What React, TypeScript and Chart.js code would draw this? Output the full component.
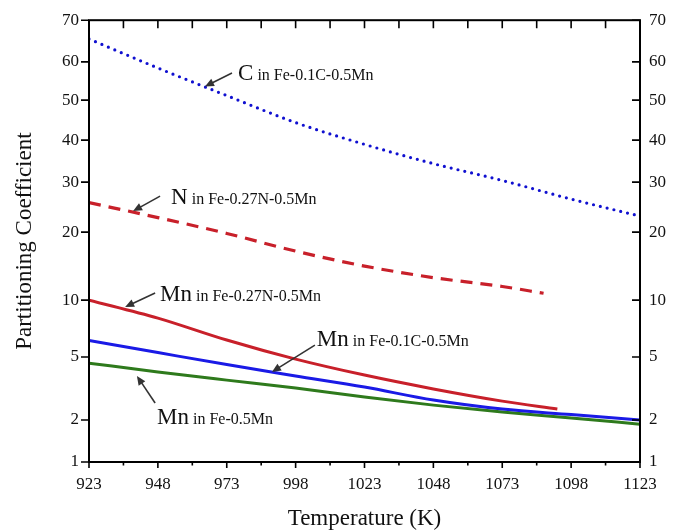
import React, { useEffect, useRef } from 'react';
import { Chart, registerables, LinearScale } from 'chart.js';

// ---------------- data ----------------
const TEMPS = [923, 948, 973, 998, 1023, 1048, 1073, 1098, 1123];
const C_IN_FE_C_MN = [65.5, 58.4, 51.2, 44.4, 39.0, 34.4, 30.4, 26.6, 23.2];

const N_TEMPS = [923, 948, 973, 998, 1023, 1048, 1073, 1088];
const N_IN_FE_N_MN = [25.9, 22.9, 19.8, 17.2, 15.0, 13.3, 12.0, 11.0];

const MN_N_TEMPS = [923, 948, 973, 998, 1023, 1048, 1073, 1093];
const MN_IN_FE_N_MN = [10.0, 8.42, 6.49, 4.9, 4.14, 3.48, 2.9, 2.52];

const MN_IN_FE_C_MN = [6.45, 5.39, 4.64, 4.1, 3.57, 2.95, 2.52, 2.26, 2.0];
const MN_IN_FE_MN = [4.71, 4.29, 3.9, 3.52, 3.1, 2.71, 2.38, 2.1, 1.9];

const X_TICKS = [923, 948, 973, 998, 1023, 1048, 1073, 1098, 1123];
const Y_TICKS = [1, 2, 5, 10, 20, 30, 40, 50, 60, 70];

// annotation texts (big element + smaller remainder)
const LABEL_MAIN = ['C', 'N', 'Mn', 'Mn', 'Mn'];
const LABEL_REST = [' in Fe-0.1C-0.5Mn', ' in Fe-0.27N-0.5Mn', ' in Fe-0.27N-0.5Mn', ' in Fe-0.1C-0.5Mn', ' in Fe-0.5Mn'];

// ---------------- axis / layout config ----------------
// segmented (broken) y axis: fraction of axis height at which each Y tick sits
const Y_TICK_FRACTIONS = [0, 0.095, 0.2376, 0.3665, 0.5204, 0.6335, 0.7285, 0.819, 0.9057, 1];

// annotation anchors in data space [T, value]
const LABEL_AT: [number, number][] = [[977.1, 57.3], [952.8, 27.2], [948.8, 11.0], [1005.7, 6.67], [947.7, 2.2]];
const ARROW_FROM: [number, number][] = [[974.9, 57.1], [948.8, 27.2], [947, 11.03], [1005, 6.05], [947, 2.81]];
const ARROW_TO: [number, number][] = [[965.1, 53.6], [939.0, 24.2], [936.1, 9.39], [989.4, 4.29], [940.4, 4.1]];

const FONT = "'Liberation Serif', 'Times New Roman', Times, serif";

function valueToFraction(v: number): number {
  const n = Y_TICKS.length;
  let i = 1;
  while (i < n - 1 && v > Y_TICKS[i]) i++;
  const a = Y_TICKS[i - 1], b = Y_TICKS[i];
  const fa = Y_TICK_FRACTIONS[i - 1], fb = Y_TICK_FRACTIONS[i];
  return fa + ((v - a) / (b - a)) * (fb - fa);
}
function fractionToValue(f: number): number {
  const n = Y_TICKS.length;
  let i = 1;
  while (i < n - 1 && f > Y_TICK_FRACTIONS[i]) i++;
  const a = Y_TICKS[i - 1], b = Y_TICKS[i];
  const fa = Y_TICK_FRACTIONS[i - 1], fb = Y_TICK_FRACTIONS[i];
  return a + ((f - fa) / (fb - fa)) * (b - a);
}

class SegmentedScale extends (LinearScale as any) {
  static id = 'segmented';
  static defaults = {};
  determineDataLimits() {
    (this as any).min = Y_TICKS[0];
    (this as any).max = Y_TICKS[Y_TICKS.length - 1];
  }
  buildTicks() {
    return Y_TICKS.map((v) => ({ value: v }));
  }
  getPixelForValue(value: number) {
    return (this as any).getPixelForDecimal(valueToFraction(value));
  }
  getValueForPixel(pixel: number) {
    return fractionToValue((this as any).getDecimalForPixel(pixel));
  }
}

Chart.register(...registerables, SegmentedScale as any);

const framePlugin = {
  id: 'frame',
  afterDatasetsDraw(chart: any) {
    const { ctx, chartArea: a, scales } = chart;
    const x = scales.x, y = scales.y;
    ctx.save();
    ctx.strokeStyle = '#000';
    ctx.lineWidth = 2;
    ctx.strokeRect(a.left, a.top, a.right - a.left, a.bottom - a.top);
    ctx.lineWidth = 1.6;
    ctx.beginPath();
    for (let i = 0; i < X_TICKS.length; i++) {
      const px = x.getPixelForValue(X_TICKS[i]);
      ctx.moveTo(px, a.bottom); ctx.lineTo(px, a.bottom + 6);
      ctx.moveTo(px, a.top); ctx.lineTo(px, a.top + 8);
      if (i < X_TICKS.length - 1) {
        const mx = x.getPixelForValue((X_TICKS[i] + X_TICKS[i + 1]) / 2);
        ctx.moveTo(mx, a.bottom); ctx.lineTo(mx, a.bottom + 3.5);
        ctx.moveTo(mx, a.top); ctx.lineTo(mx, a.top + 8);
      }
    }
    for (const v of Y_TICKS) {
      const py = y.getPixelForValue(v);
      ctx.moveTo(a.left, py); ctx.lineTo(a.left - 8, py);
      ctx.moveTo(a.right, py); ctx.lineTo(a.right - 8, py);
    }
    ctx.stroke();
    ctx.restore();
  },
};

const annotationPlugin = {
  id: 'notes',
  afterDraw(chart: any) {
    const { ctx, scales } = chart;
    const x = scales.x, y = scales.y;
    ctx.save();
    for (let i = 0; i < LABEL_MAIN.length; i++) {
      const lx = x.getPixelForValue(LABEL_AT[i][0]);
      const ly = y.getPixelForValue(LABEL_AT[i][1]);
      ctx.fillStyle = '#111';
      ctx.textBaseline = 'alphabetic';
      ctx.textAlign = 'left';
      ctx.font = `23px ${FONT}`;
      const base = ly + 8;
      ctx.fillText(LABEL_MAIN[i], lx, base);
      const w = ctx.measureText(LABEL_MAIN[i]).width;
      ctx.font = `16px ${FONT}`;
      ctx.fillText(LABEL_REST[i], lx + w, base);

      const x1 = x.getPixelForValue(ARROW_FROM[i][0]);
      const y1 = y.getPixelForValue(ARROW_FROM[i][1]);
      const x2 = x.getPixelForValue(ARROW_TO[i][0]);
      const y2 = y.getPixelForValue(ARROW_TO[i][1]);
      const ang = Math.atan2(y2 - y1, x2 - x1);
      const hl = 9, hw = 4;
      ctx.strokeStyle = '#333';
      ctx.fillStyle = '#333';
      ctx.lineWidth = 1.6;
      ctx.beginPath();
      ctx.moveTo(x1, y1);
      ctx.lineTo(x2 - Math.cos(ang) * hl * 0.8, y2 - Math.sin(ang) * hl * 0.8);
      ctx.stroke();
      ctx.beginPath();
      ctx.moveTo(x2, y2);
      ctx.lineTo(x2 - Math.cos(ang) * hl - Math.sin(ang) * hw, y2 - Math.sin(ang) * hl + Math.cos(ang) * hw);
      ctx.lineTo(x2 - Math.cos(ang) * hl + Math.sin(ang) * hw, y2 - Math.sin(ang) * hl - Math.cos(ang) * hw);
      ctx.closePath();
      ctx.fill();
    }
    ctx.restore();
  },
};

function pts(xs: number[], ys: number[]) {
  return xs.map((t, i) => ({ x: t, y: ys[i] }));
}

export default function App() {
  const ref = useRef<HTMLCanvasElement | null>(null);
  useEffect(() => {
    if (!ref.current) return;
    Chart.defaults.font.family = FONT;
    const tickFont = { family: FONT, size: 17 };
    const lineBase = { pointRadius: 0, fill: false, cubicInterpolationMode: 'monotone' as const };
    const chart = new Chart(ref.current, {
      type: 'line',
      data: {
        datasets: [
          { ...lineBase, label: 'C in Fe-0.1C-0.5Mn', data: pts(TEMPS, C_IN_FE_C_MN), borderColor: '#1010d0', borderWidth: 3.2, borderDash: [0, 7], borderCapStyle: 'round' },
          { ...lineBase, label: 'N in Fe-0.27N-0.5Mn', data: pts(N_TEMPS, N_IN_FE_N_MN), borderColor: '#c8202a', borderWidth: 3.2, borderDash: [12, 8] },
          { ...lineBase, label: 'Mn in Fe-0.27N-0.5Mn', data: pts(MN_N_TEMPS, MN_IN_FE_N_MN), borderColor: '#c8202a', borderWidth: 3 },
          { ...lineBase, label: 'Mn in Fe-0.1C-0.5Mn', data: pts(TEMPS, MN_IN_FE_C_MN), borderColor: '#1a1ae6', borderWidth: 3 },
          { ...lineBase, label: 'Mn in Fe-0.5Mn', data: pts(TEMPS, MN_IN_FE_MN), borderColor: '#2e7a1c', borderWidth: 3 },
        ],
      },
      options: {
        animation: false,
        responsive: false,
        devicePixelRatio: 1,
        layout: { padding: { top: 20, right: 0, bottom: 0, left: 0 } },
        plugins: { legend: { display: false }, tooltip: { enabled: false } },
        scales: {
          x: {
            type: 'linear',
            min: 923,
            max: 1123,
            afterBuildTicks: (s: any) => { s.ticks = X_TICKS.map((v) => ({ value: v })); },
            afterFit: (s: any) => { s.height = 68; },
            grid: { display: false, drawTicks: false },
            border: { display: false },
            ticks: { autoSkip: false, maxRotation: 0, color: '#111', font: tickFont, padding: 12, callback: (v: any) => String(v) },
            title: { display: true, text: 'Temperature (K)', color: '#111', font: { family: FONT, size: 23, lineHeight: 1 }, padding: { top: 0, bottom: 0 } },
          },
          y: {
            type: 'segmented' as any,
            position: 'left',
            afterFit: (s: any) => { s.width = 89; },
            grid: { display: false, drawTicks: false },
            border: { display: false },
            ticks: { autoSkip: false, color: '#111', font: tickFont, padding: 10, callback: (v: any) => String(v) },
            title: { display: true, text: 'Partitioning Coefficient', color: '#111', font: { family: FONT, size: 23, lineHeight: 1 }, padding: { top: 13, bottom: 0 } },
          } as any,
          y2: {
            type: 'segmented' as any,
            position: 'right',
            afterFit: (s: any) => { s.width = 40; },
            grid: { display: false, drawTicks: false },
            border: { display: false },
            ticks: { autoSkip: false, color: '#111', font: tickFont, padding: 9, callback: (v: any) => String(v) },
          } as any,
        },
      },
      plugins: [framePlugin, annotationPlugin],
    } as any);
    return () => chart.destroy();
  }, []);
  return (
    <div style={{ position: 'absolute', left: 0, top: 0, width: 680, height: 530, background: '#fff' }}>
      <canvas ref={ref} width={680} height={530} style={{ width: 680, height: 530, display: 'block' }} />
    </div>
  );
}
